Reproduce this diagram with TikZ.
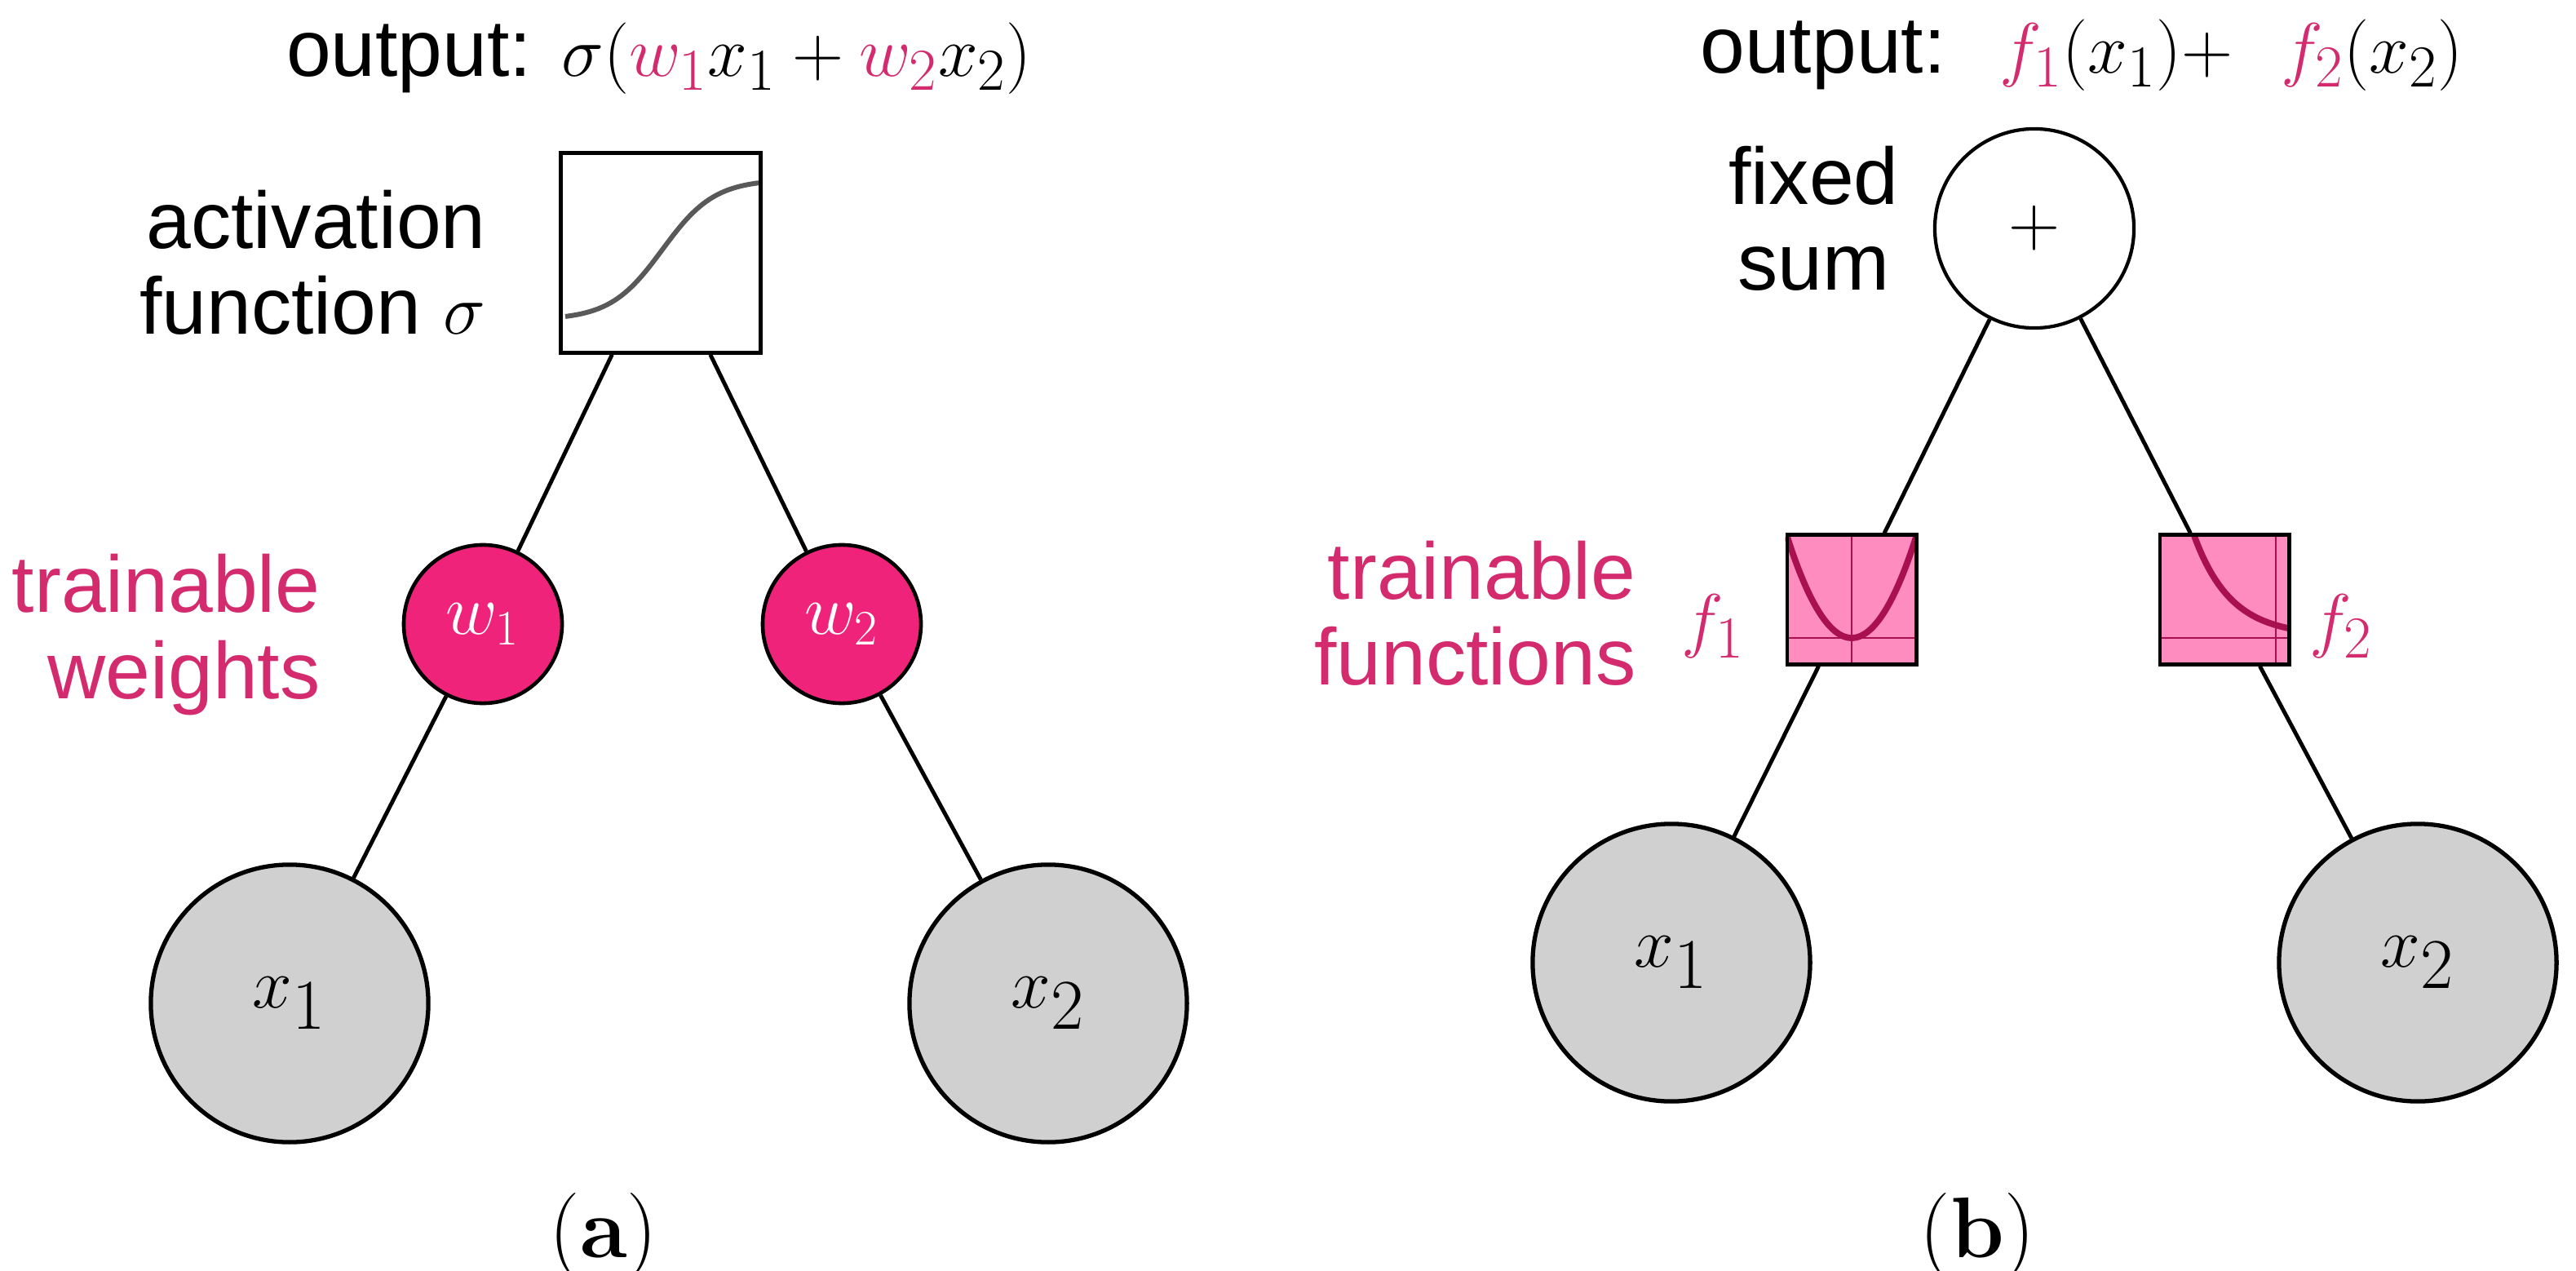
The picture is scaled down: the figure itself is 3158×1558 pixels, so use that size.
\documentclass[tikz,border=0pt]{standalone}
\usepackage{fontspec}
\setmainfont{Liberation Sans}
\newfontfamily\serifface{Latin Modern Roman}
\usetikzlibrary{calc}
\definecolor{magtext}{HTML}{D42A6E}
\definecolor{wfill}{HTML}{F0237A}
\definecolor{boxfill}{HTML}{FF8CBE}
\definecolor{curvecol}{HTML}{A8104F}
\definecolor{grayfill}{HTML}{D0D0D0}
\begin{document}
\begin{tikzpicture}[x=0.01cm,y=-0.01cm,
  lbl/.style={font=\fontsize{28}{30}\selectfont, align=right},
  lblm/.style={lbl, text=magtext},
  xnode/.style={circle, draw, line width=1.5pt, fill=grayfill, minimum size=3.4cm, inner sep=0pt, font=\fontsize{56}{60}\selectfont},
  wnode/.style={circle, draw, line width=1.3pt, fill=wfill, minimum size=1.94cm, inner sep=0pt, text=white, font=\fontsize{24}{26}\selectfont},
  fnode/.style={rectangle, draw, line width=1.4pt, fill=boxfill, minimum size=1.58cm, inner sep=0pt},
  conn/.style={line width=1.4pt},
  subcap/.style={font=\fontsize{30}{32}\selectfont\serifface}]
\useasboundingbox (0,0) rectangle (3158,1558);

% ---------- (a) ----------
\node[font=\fontsize{28}{30}\selectfont] (ta) at (808,72) {output: \fontsize{30}{32}\selectfont$\sigma(\textcolor{magtext}{w_1}x_1 + \textcolor{magtext}{w_2}x_2)$};
\node[rectangle, draw, line width=1.2pt, fill=white, minimum size=2.45cm, inner sep=0pt] (act) at (810,310) {};
\draw[line width=1.7pt, color=black!65] plot[domain=693:930, samples=60] (\x, {392-172/(1+exp(-(\x-812)/32))});
\node[lbl, anchor=east] (actl) at (608,322) {activation\\function \fontsize{30}{32}\selectfont$\sigma$};
\node[wnode] (w1) at (592,765) {$w_1$};
\node[wnode] (w2) at (1032,765) {$w_2$};
\node[lblm, anchor=east] (twl) at (405,778) {trainable\\weights};
\node[xnode] (ax1) at (355,1230) {$x_1$};
\node[xnode] (ax2) at (1285,1230) {$x_2$};
\draw[conn] (act) -- (w1);
\draw[conn] (act) -- (w2);
\draw[conn] (w1) -- (ax1);
\draw[conn] (w2) -- (ax2);
\node[subcap] (capa) at (740,1515) {(\textbf{a})};

% ---------- (b) ----------
\node[font=\fontsize{28}{30}\selectfont] (tb) at (2552,68) {output: \fontsize{30}{32}\selectfont$\ \textcolor{magtext}{f_1}(x_1){+}\ \ \textcolor{magtext}{f_2}(x_2)$};
\node[circle, draw, line width=1.2pt, fill=white, minimum size=2.44cm, inner sep=0pt, font=\fontsize{24}{26}\selectfont] (sum) at (2494,280) {$+$};
\node[lbl, anchor=east, align=center] (fsl) at (2340,268) {fixed\\sum};
\node[fnode] (f1) at (2270,735) {};
\node[fnode] (f2) at (2727,735) {};
\begin{scope}
  \clip (f1.south west) rectangle (f1.north east);
  \draw[line width=0.5pt, color=curvecol] (2191,782) -- (2349,782) (2270,656) -- (2270,814);
  \draw[line width=2.2pt, color=curvecol] plot[domain=2191:2349, samples=50] (\x, {782-124*((\x-2270)/79)^2});
\end{scope}
\begin{scope}
  \clip (f2.south west) rectangle (f2.north east);
  \draw[line width=0.5pt, color=curvecol] (2648,782) -- (2806,782) (2790,656) -- (2790,814);
  \draw[line width=2.2pt, color=curvecol] plot[domain=2690:2805, samples=50] (\x, {657+113*(1-exp(-(\x-2690)/45))/(1-exp(-115/45))});
\end{scope}
\node[fnode, fill=none] (f1b) at (f1) {};
\node[fnode, fill=none] (f2b) at (f2) {};
\node[lblm, anchor=east] (tfl) at (2018,752) {trainable\\functions};
\node[text=magtext, font=\fontsize{30}{32}\selectfont] (f1l) at (2100,768) {$f_1$};
\node[text=magtext, font=\fontsize{30}{32}\selectfont] (f2l) at (2870,768) {$f_2$};
\node[xnode] (bx1) at (2049,1180) {$x_1$};
\node[xnode] (bx2) at (2964,1180) {$x_2$};
\draw[conn] (sum) -- (f1);
\draw[conn] (sum) -- (f2);
\draw[conn] (f1) -- (bx1);
\draw[conn] (f2) -- (bx2);
\node[subcap] (capb) at (2424,1515) {(\textbf{b})};
\end{tikzpicture}
\end{document}
